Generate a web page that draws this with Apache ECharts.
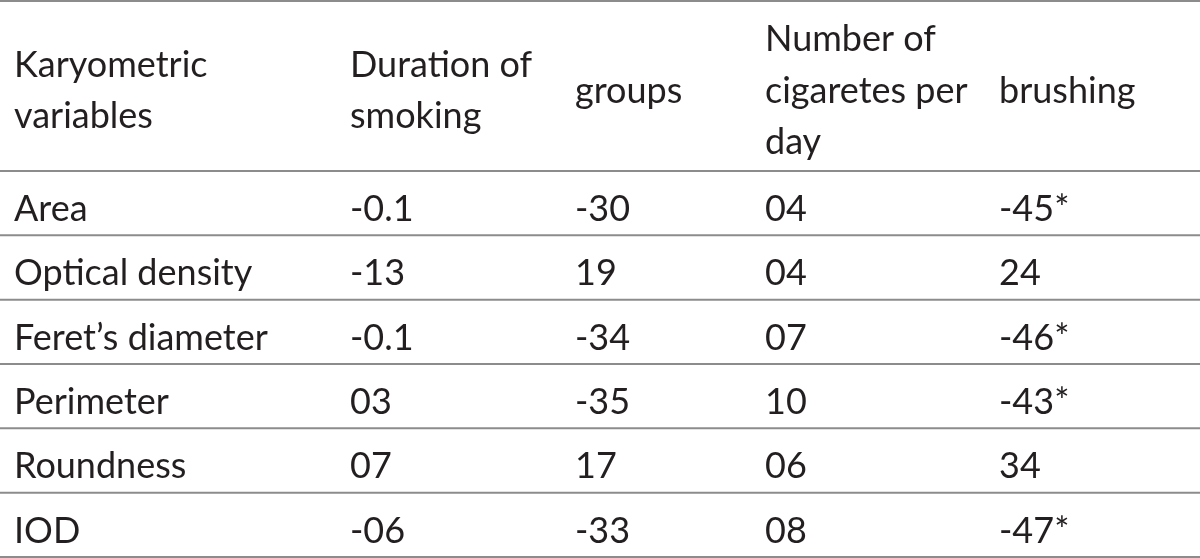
<!DOCTYPE html>
<html>
<head>
<meta charset="utf-8">
<script src="https://cdn.jsdelivr.net/npm/echarts@6/dist/echarts.min.js"></script>
<style>html,body{margin:0;padding:0;background:#fff}#main{width:1200px;height:558px}</style>
</head>
<body>
<div id="main"></div>
<script>
// ---- data ----
var headers = ["Karyometric\nvariables", "Duration of\nsmoking", "groups", "Number of\ncigaretes per\nday", "brushing"];
var variables = ["Area", "Optical density", "Feret\u2019s diameter", "Perimeter", "Roundness", "IOD"];
var durationOfSmoking = ["-0.1", "-13", "-0.1", "03", "07", "-06"];
var groups = ["-30", "19", "-34", "-35", "17", "-33"];
var cigarettesPerDay = ["04", "04", "07", "10", "06", "08"];
var brushing = ["-45*", "24", "-46*", "-43*", "34", "-47*"];

// ---- layout (not data) ----
var colX = [14, 350, 575, 765, 999];
var tableTop = 1, headerBottom = 171, tableBottom = 557;
var rowH = (tableBottom - headerBottom) / variables.length;
var FONT = '36px Lato';
var TEXT = '#231f20';
var LINE = '#8c8c8c';

var columns = [variables, durationOfSmoking, groups, cigarettesPerDay, brushing];
var cells = [];
// header cells: row index -1
headers.forEach(function (h, c) { cells.push([c, -1]); });
for (var r = 0; r < variables.length; r++) {
  for (var c = 0; c < columns.length; c++) cells.push([c, r]);
}
var boundaries = [tableTop, headerBottom];
for (var k = 1; k <= variables.length; k++) boundaries.push(headerBottom + rowH * k);

var chart = echarts.init(document.getElementById('main'), null, {renderer: 'canvas'});
chart.setOption({
  animation: false,
  backgroundColor: '#fff',
  grid: {left: 0, right: 0, top: 0, bottom: 0},
  xAxis: {type: 'value', min: 0, max: 1200, show: false},
  yAxis: {type: 'value', min: 0, max: 558, inverse: true, show: false},
  series: [
    {
      type: 'custom',
      data: boundaries.map(function (b) { return [b]; }),
      renderItem: function (params, api) {
        var y = api.value(0);
        var p1 = api.coord([0, y]), p2 = api.coord([1200, y]);
        return {type: 'line', shape: {x1: p1[0], y1: p1[1], x2: p2[0], y2: p2[1]},
                style: {stroke: LINE, lineWidth: 2}};
      }
    },
    {
      type: 'custom',
      data: cells,
      renderItem: function (params, api) {
        var c = api.value(0), r = api.value(1);
        var children = [];
        if (r < 0) {
          var lines = headers[c].split('\n');
          var n = lines.length;
          lines.forEach(function (t, i) {
            var base = 102 + (i - (n - 1) / 2) * 51.5;
            var p = api.coord([colX[c], base - 11]);
            children.push({type: 'text', style: {text: t, x: p[0], y: p[1], font: FONT, fill: TEXT, align: 'left', verticalAlign: 'middle'}});
          });
        } else {
          var base = headerBottom + rowH * r + 49.5;
          var p = api.coord([colX[c], base - 11]);
          children.push({type: 'text', style: {text: columns[c][r], x: p[0], y: p[1], font: FONT, fill: TEXT, align: 'left', verticalAlign: 'middle'}});
        }
        return {type: 'group', children: children};
      }
    }
  ]
});
</script>
</body>
</html>
